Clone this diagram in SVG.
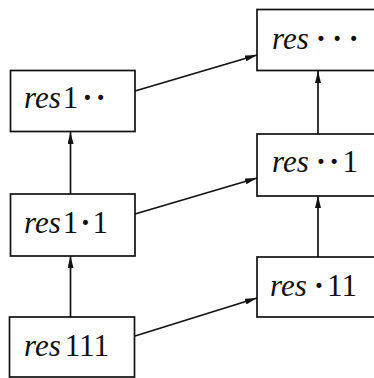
<svg xmlns="http://www.w3.org/2000/svg" width="374" height="378" viewBox="0 0 374 378">
<style>
.box{fill:#fff;stroke:#111;stroke-width:1.7}
.lbl{font-family:"Liberation Serif",serif;font-size:31px;fill:#111}
.it{font-style:italic}
.d{font-weight:bold}
.edge{stroke:#111;stroke-width:1.7;fill:none;marker-end:url(#ah)}
</style>
<defs>
<marker id="ah" viewBox="0 0 12 6" refX="12" refY="3" markerWidth="12" markerHeight="6" markerUnits="userSpaceOnUse" orient="auto">
<path d="M0,0 L12,3 L0,6 Z" fill="#111"/>
</marker>
</defs>
<g id="connectors">
<line class="edge" x1="70.5" y1="194" x2="70.5" y2="132"/>
<line class="edge" x1="70.5" y1="317" x2="70.5" y2="256"/>
<line class="edge" x1="318" y1="134" x2="318" y2="71"/>
<line class="edge" x1="318" y1="257" x2="318" y2="196"/>
<line class="edge" x1="135" y1="91" x2="257" y2="55"/>
<line class="edge" x1="135" y1="214" x2="257" y2="178"/>
<line class="edge" x1="135" y1="336" x2="257" y2="298"/>
</g>
<g id="res1dd">
<rect class="box" x="10.5" y="70.5" width="124.5" height="61"/>
<text class="lbl" x="24" y="108"><tspan class="it">res</tspan><tspan dx="2">1</tspan><tspan class="d" dx="4">·</tspan><tspan class="d" dx="3">·</tspan></text>
</g>
<g id="res1d1">
<rect class="box" x="10.5" y="194" width="124.5" height="62"/>
<text class="lbl" x="24" y="233"><tspan class="it">res</tspan><tspan dx="2">1</tspan><tspan class="d" dx="2">·</tspan><tspan dx="2">1</tspan></text>
</g>
<g id="res111">
<rect class="box" x="9.5" y="317" width="125" height="60"/>
<text class="lbl" x="24" y="356"><tspan class="it">res</tspan><tspan dx="4">111</tspan></text>
</g>
<g id="resddd">
<rect class="box" x="257" y="9.5" width="130" height="61"/>
<text class="lbl" x="272" y="49"><tspan class="it">res</tspan><tspan class="d" dx="7">·</tspan><tspan class="d" dx="6">·</tspan><tspan class="d" dx="6">·</tspan></text>
</g>
<g id="resdd1">
<rect class="box" x="257" y="134" width="130" height="62"/>
<text class="lbl" x="272" y="172"><tspan class="it">res</tspan><tspan class="d" dx="7">·</tspan><tspan class="d" dx="3">·</tspan><tspan dx="3">1</tspan></text>
</g>
<g id="resd11">
<rect class="box" x="257" y="257" width="130" height="60"/>
<text class="lbl" x="270" y="296"><tspan class="it">res</tspan><tspan class="d" dx="7">·</tspan><tspan dx="3">11</tspan></text>
</g>
</svg>
